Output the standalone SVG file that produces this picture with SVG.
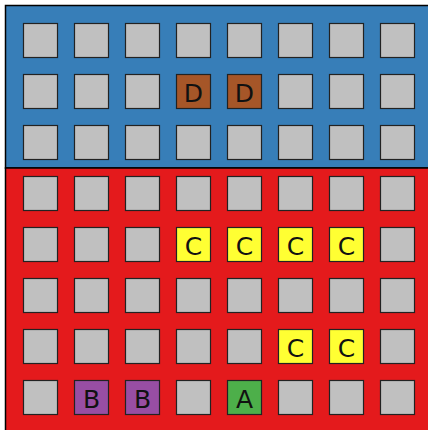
<svg xmlns="http://www.w3.org/2000/svg" width="428" height="430" viewBox="0 0 428 430">
<style>
.reg{stroke:#000;stroke-width:1.5}
.sq{stroke:#222;stroke-width:1.2}
.g{fill:#c0c0c0}
.lbl{font-family:"DejaVu Sans",sans-serif;font-size:25px;text-anchor:middle;fill:#111}
</style>
<rect width="428" height="430" fill="#fff"/>
<g id="region-blue"><rect class="reg" x="5.5" y="5.5" width="430" height="162.5" fill="#377eb8"/></g>
<g id="region-red"><rect class="reg" x="5.5" y="168" width="430" height="270" fill="#e41a1c"/></g>
<g id="grid">
<g id="r0">
<rect class="sq g" x="23.5" y="23.5" width="34" height="34"/><rect class="sq g" x="74.5" y="23.5" width="34" height="34"/><rect class="sq g" x="125.5" y="23.5" width="34" height="34"/><rect class="sq g" x="176.5" y="23.5" width="34" height="34"/><rect class="sq g" x="227.5" y="23.5" width="34" height="34"/><rect class="sq g" x="278.5" y="23.5" width="34" height="34"/><rect class="sq g" x="329.5" y="23.5" width="34" height="34"/><rect class="sq g" x="380.5" y="23.5" width="34" height="34"/>
</g>
<g id="r1">
<rect class="sq g" x="23.5" y="74.5" width="34" height="34"/><rect class="sq g" x="74.5" y="74.5" width="34" height="34"/><rect class="sq g" x="125.5" y="74.5" width="34" height="34"/><rect class="sq g" x="278.5" y="74.5" width="34" height="34"/><rect class="sq g" x="329.5" y="74.5" width="34" height="34"/><rect class="sq g" x="380.5" y="74.5" width="34" height="34"/>
</g>
<g id="r2">
<rect class="sq g" x="23.5" y="125.5" width="34" height="34"/><rect class="sq g" x="74.5" y="125.5" width="34" height="34"/><rect class="sq g" x="125.5" y="125.5" width="34" height="34"/><rect class="sq g" x="176.5" y="125.5" width="34" height="34"/><rect class="sq g" x="227.5" y="125.5" width="34" height="34"/><rect class="sq g" x="278.5" y="125.5" width="34" height="34"/><rect class="sq g" x="329.5" y="125.5" width="34" height="34"/><rect class="sq g" x="380.5" y="125.5" width="34" height="34"/>
</g>
<g id="r3">
<rect class="sq g" x="23.5" y="176.5" width="34" height="34"/><rect class="sq g" x="74.5" y="176.5" width="34" height="34"/><rect class="sq g" x="125.5" y="176.5" width="34" height="34"/><rect class="sq g" x="176.5" y="176.5" width="34" height="34"/><rect class="sq g" x="227.5" y="176.5" width="34" height="34"/><rect class="sq g" x="278.5" y="176.5" width="34" height="34"/><rect class="sq g" x="329.5" y="176.5" width="34" height="34"/><rect class="sq g" x="380.5" y="176.5" width="34" height="34"/>
</g>
<g id="r4">
<rect class="sq g" x="23.5" y="227.5" width="34" height="34"/><rect class="sq g" x="74.5" y="227.5" width="34" height="34"/><rect class="sq g" x="125.5" y="227.5" width="34" height="34"/><rect class="sq g" x="380.5" y="227.5" width="34" height="34"/>
</g>
<g id="r5">
<rect class="sq g" x="23.5" y="278.5" width="34" height="34"/><rect class="sq g" x="74.5" y="278.5" width="34" height="34"/><rect class="sq g" x="125.5" y="278.5" width="34" height="34"/><rect class="sq g" x="176.5" y="278.5" width="34" height="34"/><rect class="sq g" x="227.5" y="278.5" width="34" height="34"/><rect class="sq g" x="278.5" y="278.5" width="34" height="34"/><rect class="sq g" x="329.5" y="278.5" width="34" height="34"/><rect class="sq g" x="380.5" y="278.5" width="34" height="34"/>
</g>
<g id="r6">
<rect class="sq g" x="23.5" y="329.5" width="34" height="34"/><rect class="sq g" x="74.5" y="329.5" width="34" height="34"/><rect class="sq g" x="125.5" y="329.5" width="34" height="34"/><rect class="sq g" x="176.5" y="329.5" width="34" height="34"/><rect class="sq g" x="227.5" y="329.5" width="34" height="34"/><rect class="sq g" x="380.5" y="329.5" width="34" height="34"/>
</g>
<g id="r7">
<rect class="sq g" x="23.5" y="380.5" width="34" height="34"/><rect class="sq g" x="176.5" y="380.5" width="34" height="34"/><rect class="sq g" x="278.5" y="380.5" width="34" height="34"/><rect class="sq g" x="329.5" y="380.5" width="34" height="34"/><rect class="sq g" x="380.5" y="380.5" width="34" height="34"/>
</g>
</g>
<g id="D1"><rect class="sq" x="176.5" y="74.5" width="34" height="34" fill="#a65628"/><text class="lbl" x="193.5" y="101.5">D</text></g>
<g id="D2"><rect class="sq" x="227.5" y="74.5" width="34" height="34" fill="#a65628"/><text class="lbl" x="244.5" y="101.5">D</text></g>
<g id="C1"><rect class="sq" x="176.5" y="227.5" width="34" height="34" fill="#ffff33"/><text class="lbl" x="193.5" y="254.5">C</text></g>
<g id="C2"><rect class="sq" x="227.5" y="227.5" width="34" height="34" fill="#ffff33"/><text class="lbl" x="244.5" y="254.5">C</text></g>
<g id="C3"><rect class="sq" x="278.5" y="227.5" width="34" height="34" fill="#ffff33"/><text class="lbl" x="295.5" y="254.5">C</text></g>
<g id="C4"><rect class="sq" x="329.5" y="227.5" width="34" height="34" fill="#ffff33"/><text class="lbl" x="346.5" y="254.5">C</text></g>
<g id="C5"><rect class="sq" x="278.5" y="329.5" width="34" height="34" fill="#ffff33"/><text class="lbl" x="295.5" y="356.5">C</text></g>
<g id="C6"><rect class="sq" x="329.5" y="329.5" width="34" height="34" fill="#ffff33"/><text class="lbl" x="346.5" y="356.5">C</text></g>
<g id="B1"><rect class="sq" x="74.5" y="380.5" width="34" height="34" fill="#984ea3"/><text class="lbl" x="91.5" y="407.5">B</text></g>
<g id="B2"><rect class="sq" x="125.5" y="380.5" width="34" height="34" fill="#984ea3"/><text class="lbl" x="142.5" y="407.5">B</text></g>
<g id="A"><rect class="sq" x="227.5" y="380.5" width="34" height="34" fill="#4daf4a"/><text class="lbl" x="244.5" y="407.5">A</text></g>
<g id="connectors"/>
</svg>
